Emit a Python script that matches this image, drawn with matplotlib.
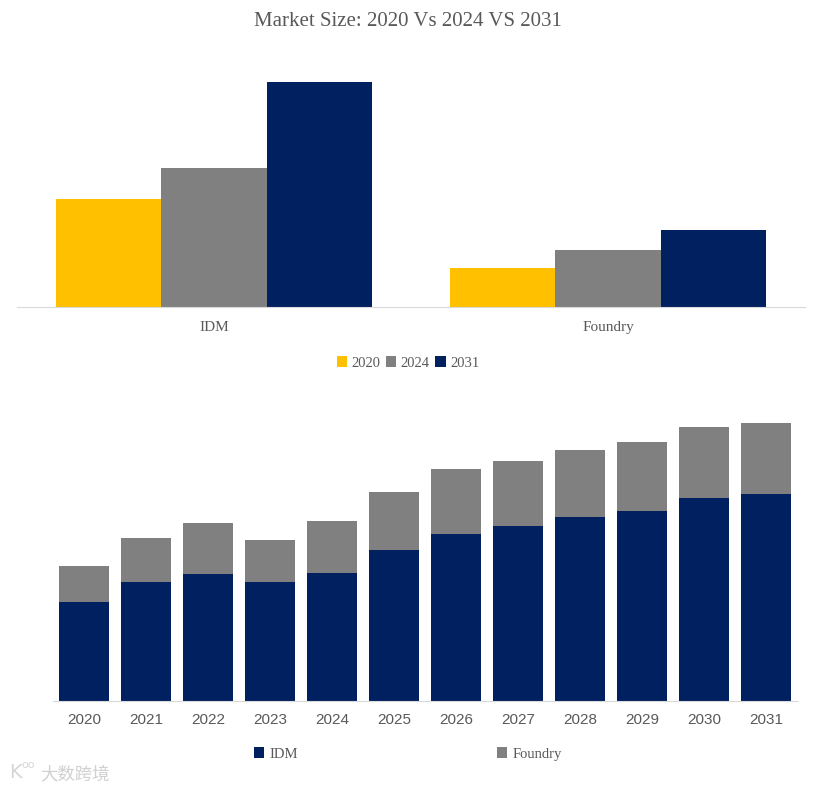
import matplotlib.pyplot as plt
import numpy as np

# data (relative units, no value axis shown)
years = ['2020', '2021', '2022', '2023', '2024', '2025', '2026', '2027', '2028', '2029', '2030', '2031']
idm = [29.7, 35.7, 38.1, 35.7, 38.4, 45.3, 50.1, 52.5, 55.2, 57.0, 60.9, 62.1]
foundry = [10.8, 13.2, 15.3, 12.6, 15.6, 17.4, 19.5, 19.5, 20.1, 20.7, 21.3, 21.3]

segments = ['IDM', 'Foundry']
compare_years = ['2020', '2024', '2031']

yellow = '#FFC000'
gray = '#808080'
navy = '#002060'
text_gray = '#595959'
serif = ['Liberation Serif', 'DejaVu Serif']
narrow = ['Liberation Sans Narrow', 'Liberation Sans', 'DejaVu Sans']

fig = plt.figure(figsize=(8.36, 7.9), dpi=100)
W, H = 836, 790


def px_axes(x0, y0, x1, y1):
    # axes from pixel box (top-left origin)
    return fig.add_axes([x0 / W, 1 - y1 / H, (x1 - x0) / W, (y1 - y0) / H])


fig.text(408 / W, 1 - 22 / H, 'Market Size: 2020 Vs 2024 VS 2031', ha='center', va='center',
         fontsize=15, color=text_gray, family=serif)

# --- top: grouped bars ---
ax1 = px_axes(17, 70, 805, 307)
bar_colors = [yellow, gray, navy]
w = 0.8 / 3
x = np.arange(len(segments))
for i, yr in enumerate(compare_years):
    k = years.index(yr)
    vals = [idm[k], foundry[k]]
    ax1.bar(x + (i - 1) * w, vals, width=w, color=bar_colors[i], label=yr)
ax1.set_xlim(-0.5, 1.5)
ax1.set_ylim(0, 62.1 * 237 / 225)
ax1.set_yticks([])
ax1.set_xticks(x)
ax1.set_xticklabels(segments, family=serif, fontsize=11, color=text_gray)
ax1.tick_params(axis='x', length=0, pad=10)
for s in ['top', 'right', 'left']:
    ax1.spines[s].set_visible(False)
ax1.spines['bottom'].set_color('#D9D9D9')
leg1 = fig.legend(loc='center', bbox_to_anchor=(408 / W, 1 - 363 / H), ncol=3, frameon=False,
                  prop={'family': serif, 'size': 10.5}, handlelength=0.7, handleheight=0.7,
                  handletextpad=0.3, columnspacing=0.4)
for t in leg1.get_texts():
    t.set_color(text_gray)

# --- bottom: stacked bars ---
ax2 = px_axes(53, 410, 797, 701)
xs = np.arange(len(years))
ax2.bar(xs, idm, width=0.8, color=navy, label='IDM')
ax2.bar(xs, foundry, width=0.8, bottom=idm, color=gray, label='Foundry')
ax2.set_xlim(-0.5, len(years) - 0.5)
ax2.set_ylim(0, 291 / (10 / 3))
ax2.set_yticks([])
ax2.set_xticks(xs)
ax2.set_xticklabels(years, family=narrow, fontsize=11, color=text_gray)
ax2.tick_params(axis='x', length=0, pad=9)
for s in ['top', 'right', 'left']:
    ax2.spines[s].set_visible(False)
ax2.spines['bottom'].set_color('#D9D9D9')
leg2 = fig.legend(handles=ax2.patches[:1] + ax2.patches[12:13], labels=segments, loc='center',
                  bbox_to_anchor=(408 / W, 1 - 754 / H), ncol=2, frameon=False,
                  prop={'family': serif, 'size': 10.5}, handlelength=0.7, handleheight=0.7,
                  handletextpad=0.4, columnspacing=13.6)
for t in leg2.get_texts():
    t.set_color(text_gray)

# watermark
fig.text(9 / W, 1 - 772 / H, 'K', ha='left', va='center', fontsize=14,
         color='#D6D6D6', family=['DejaVu Sans'])
fig.text(21 / W, 1 - 765 / H, 'oo', ha='left', va='center', fontsize=8,
         color='#D6D6D6', family=['DejaVu Sans'])
fig.text(40 / W, 1 - 774 / H, '大数跨境', ha='left', va='center', fontsize=12.5,
         color='#D0D0D0', family=['Noto Sans CJK SC', 'DejaVu Sans'])

fig.savefig('out.png', dpi=100)
